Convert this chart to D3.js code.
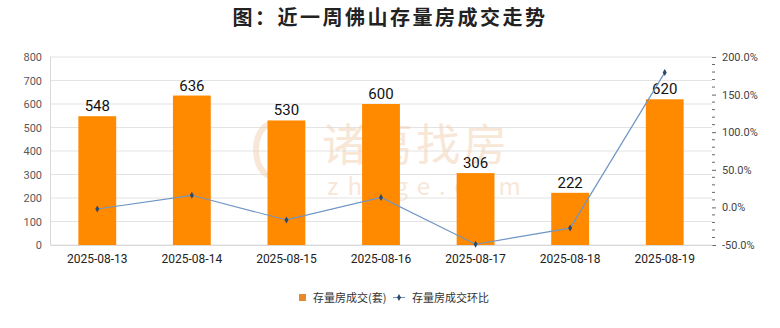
<!DOCTYPE html>
<html><head><meta charset="utf-8">
<script src="https://cdn.jsdelivr.net/npm/d3@7"></script>
<style>body{margin:0;background:#fff;font-family:"Noto Sans CJK SC","Noto Sans",sans-serif}</style>
</head><body><svg id="c" width="780" height="328"></svg>
<script>
const categories = ["2025-08-13","2025-08-14","2025-08-15","2025-08-16","2025-08-17","2025-08-18","2025-08-19"];
const volumes = [548, 636, 530, 600, 306, 222, 620];
const ratios = [-2.1, 16.1, -16.7, 13.2, -49.0, -27.5, 179.3];
const leftTicks = [0,100,200,300,400,500,600,700,800];
const rightTicks = [-50,0,50,100,150,200];

const svg = d3.select("#c");
const L = 50, R = 712, T = 57, B = 245;
const x = d3.scaleBand().domain(categories).range([L, R]).paddingInner(0.6).paddingOuter(0.3);
const y = d3.scaleLinear().domain([0, 800]).range([B, T]);
const y2 = d3.scaleLinear().domain([-50, 200]).range([B, T]);

svg.append("text").attr("x", 390).attr("y", 25).attr("text-anchor","middle")
  .attr("font-size", 20).attr("font-weight","bold").attr("fill","#222").attr("letter-spacing", 2.5)
  .text("图：近一周佛山存量房成交走势");

// grid
svg.append("g").selectAll("line").data(leftTicks).join("line")
  .attr("x1", L).attr("x2", R).attr("y1", d=>y(d)).attr("y2", d=>y(d))
  .attr("stroke", "#e3e3e3").attr("stroke-width", 1);
svg.append("line").attr("x1", L+0.5).attr("x2", L+0.5).attr("y1", T).attr("y2", B).attr("stroke","#d9d9d9");

// watermark
const wm = svg.append("g").attr("opacity", 0.55);
wm.append("ellipse").attr("cx", 272).attr("cy", 150).attr("rx", 16).attr("ry", 26).attr("fill", "none").attr("stroke", "#f3d3b8").attr("stroke-width", 6);
wm.append("text").attr("x", 322).attr("y", 161).attr("font-size", 44).attr("fill", "#f3d3b8").attr("letter-spacing", 3).text("诸葛找房");
wm.append("text").attr("x", 327).attr("y", 195).attr("font-size", 24).attr("fill", "#f3d3b8").attr("letter-spacing", 9).text("zhuge.com");

// left axis
const ya = svg.append("g").attr("transform", `translate(${L},0)`)
  .call(d3.axisLeft(y).tickValues(leftTicks).tickSize(0).tickPadding(8));
ya.select(".domain").remove();
ya.selectAll("text").attr("font-size", 11).attr("fill", "#595959").attr("font-family","Roboto, sans-serif");

// right axis
const ya2 = svg.append("g").attr("transform", `translate(${R},0)`)
  .call(d3.axisRight(y2).tickValues(rightTicks).tickSize(4).tickPadding(6).tickFormat(d => d.toFixed(1) + "%"));
ya2.select(".domain").remove();
ya2.selectAll("line").attr("stroke", "#666");
ya2.selectAll("text").attr("font-size", 11).attr("fill", "#444").attr("font-family","Roboto, sans-serif");
const minor = d3.range(-50, 201, 10).filter(d => d % 50 !== 0);
svg.append("g").selectAll("line").data(minor).join("line")
  .attr("x1", R).attr("x2", R+3).attr("y1", d=>y2(d)).attr("y2", d=>y2(d)).attr("stroke","#666");

// bottom axis
const xa = svg.append("g").attr("transform", `translate(0,${B})`)
  .call(d3.axisBottom(x).tickSize(0).tickPadding(9));
xa.select(".domain").attr("stroke", "#d9d9d9");
xa.selectAll("text").attr("font-size", 12).attr("fill", "#222").attr("font-family","Roboto, sans-serif");

// bars
svg.append("g").selectAll("rect").data(volumes).join("rect")
  .attr("x", (d,i)=>x(categories[i])).attr("width", x.bandwidth())
  .attr("y", d=>y(d)).attr("height", d=>B - y(d)).attr("fill", "#ff8a00");
svg.append("g").selectAll("text").data(volumes).join("text")
  .attr("x", (d,i)=>x(categories[i]) + x.bandwidth()/2).attr("y", d=>y(d) - 5)
  .attr("text-anchor","middle").attr("font-size", 15).attr("fill","#111").attr("font-family","Roboto, sans-serif")
  .text(d=>d);

// line
const line = d3.line().x((d,i)=>x(categories[i]) + x.bandwidth()/2).y(d=>y2(d));
svg.append("path").datum(ratios).attr("d", line).attr("fill","none").attr("stroke","#6f95c4").attr("stroke-width",1.2);
const diamond = d3.symbol().type(d3.symbolDiamond).size(14);
svg.append("g").selectAll("path").data(ratios).join("path")
  .attr("transform", (d,i)=>`translate(${x(categories[i]) + x.bandwidth()/2},${y2(d)})`)
  .attr("d", diamond).attr("fill", "#2e4a6b");

// legend
const lg = svg.append("g").attr("font-size", 11).attr("fill", "#333");
lg.append("rect").attr("x", 299).attr("y", 294).attr("width", 7).attr("height", 7).attr("fill", "#e8892a");
lg.append("text").attr("x", 313).attr("y", 302).attr("fill","#333").text("存量房成交(套)");
lg.append("line").attr("x1", 393).attr("x2", 405).attr("y1", 297.5).attr("y2", 297.5).attr("stroke", "#6f95c4");
lg.append("path").attr("transform","translate(399,297.5)").attr("d", diamond).attr("fill", "#2e4a6b");
lg.append("text").attr("x", 412).attr("y", 302).attr("fill","#333").text("存量房成交环比");
</script></body></html>
